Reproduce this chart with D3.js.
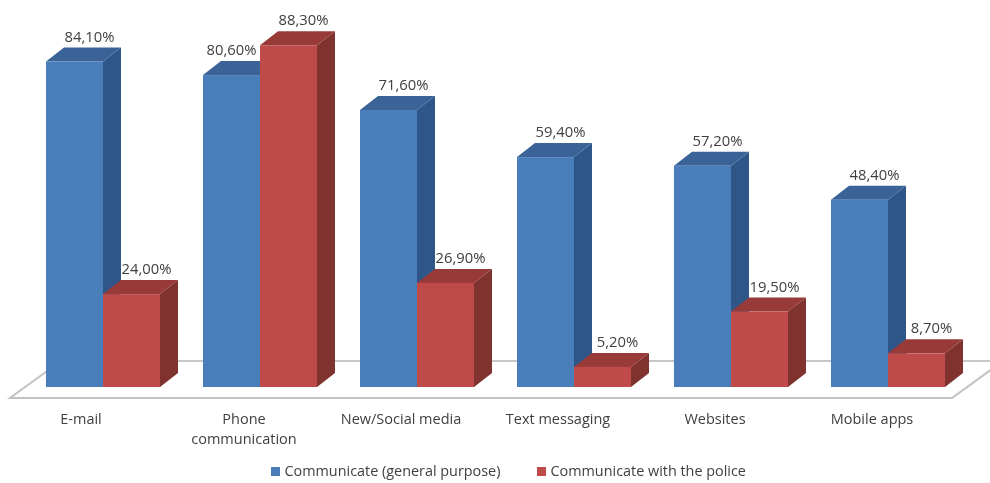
<!DOCTYPE html>
<html><head><meta charset="utf-8">
<script src="https://cdnjs.cloudflare.com/ajax/libs/d3/7.8.5/d3.min.js"></script>
<style>html,body{margin:0;padding:0;background:#fff}svg{display:block}text{font-family:"Open Sans",sans-serif;fill:#404040}</style>
</head><body><svg id="c" width="990" height="483"></svg>
<script>
const categories=["E-mail","Phone communication","New/Social media","Text messaging","Websites","Mobile apps"];
const general=[84.1,80.6,71.6,59.4,57.2,48.4];
const police=[24.0,88.3,26.9,5.2,19.5,8.7];
const seriesNames=["Communicate (general purpose)","Communicate with the police"];
const fmt=v=>v.toFixed(2).replace(".",",")+"%";

const svg=d3.select("#c");
const defs=svg.append("defs");
defs.append("filter").attr("id","soft").append("feGaussianBlur").attr("stdDeviation",0.5);
const root=svg.append("g").attr("filter","url(#soft)");

const x0=d3.scaleBand().domain(categories).range([46,945]).paddingInner(43/157).paddingOuter(0);
const x1=d3.scaleBand().domain([0,1]).range([0,x0.bandwidth()]);
const y=d3.scaleLinear().domain([0,100]).range([387,0]);
const dx=18,dy=-14;
const palette=[{front:"#4a7ebb",top:"#3a6497",side:"#2f5788"},{front:"#be4b48",top:"#983b39",side:"#7f302e"}];

// floor
const fl=y(0)+11, bl=y(0)-26;
root.append("path").attr("d",`M61,${bl}L1003,${bl}`).attr("fill","none").attr("stroke","#8f8f8f").attr("stroke-width",1.2);
root.append("path").attr("d",`M61,${bl}L10,${fl}L952,${fl}L1003,${bl}`).attr("fill","none").attr("stroke","#c2c2c2").attr("stroke-width",2);

const marks=[];
categories.forEach((c,i)=>{marks.push({c,i,s:0,v:general[i]});marks.push({c,i,s:1,v:police[i]});});
const g=root.selectAll("g.bar").data(marks).join("g").attr("class","bar");
g.each(function(d){
  const el=d3.select(this),x=x0(d.c)+x1(d.s),w=x1.bandwidth(),t=y(d.v),b=y(0),p=palette[d.s];
  el.append("path").attr("d",d3.line()([[x+w,t],[x+w+dx,t+dy],[x+w+dx,b+dy],[x+w,b]])+"Z").attr("fill",p.side);
  el.append("path").attr("d",d3.line()([[x,t],[x+dx,t+dy],[x+w+dx,t+dy],[x+w,t]])+"Z").attr("fill",p.top);
  el.append("rect").attr("x",x).attr("y",t).attr("width",w).attr("height",b-t).attr("fill",p.front);
});
root.selectAll("text.val").data(marks).join("text").attr("class","val")
  .attr("x",d=>x0(d.c)+x1(d.s)+x1.bandwidth()/2+((d.i===1&&d.s===0)?0:15))
  .attr("y",d=>y(d.v)+dy-6)
  .attr("text-anchor","middle").attr("font-size",14.8).text(d=>fmt(d.v));

const wrap={"Phone communication":["Phone","communication"]};
categories.forEach(c=>{
  const lines=wrap[c]||[c];
  const cx=x0(c)+x0.bandwidth()/2-(c==="E-mail"?22:16);
  lines.forEach((l,k)=>root.append("text").attr("x",cx)
    .attr("y",424+k*20).attr("text-anchor","middle").attr("font-size",14.5).text(l));
});

// legend
const lx=[271,537];
seriesNames.forEach((n,i)=>{
  root.append("rect").attr("x",lx[i]).attr("y",467).attr("width",9).attr("height",9).attr("fill",palette[i].front);
  root.append("text").attr("x",lx[i]+13.5).attr("y",476).attr("font-size",14.4).text(n);
});
</script></body></html>
